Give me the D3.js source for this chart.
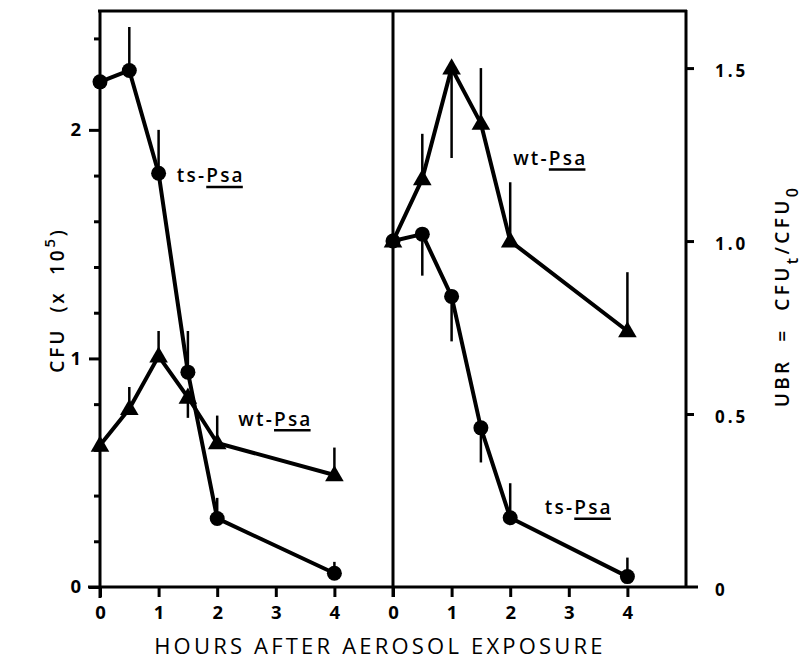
<!DOCTYPE html>
<html>
<head>
<meta charset="utf-8">
<script src="https://cdn.jsdelivr.net/npm/d3@7"></script>
<style>
  html, body { margin: 0; padding: 0; background: #fff; }
  svg text { font-family: "Open Sans", "DejaVu Sans", sans-serif; fill: #000; }
</style>
</head>
<body>
<svg id="chart" width="805" height="666"></svg>
<script>
// hours after exposure, shared by both panels
var hours = [0, 0.5, 1, 1.5, 2, 4];
var xTicks = [0, 1, 2, 3, 4];

// left panel: CFU (x 10^5)
var leftTs     = [2.21, 2.26, 1.81, 0.94, 0.30, 0.06];
var leftTsErr  = [null, 2.45, 2.00, 1.12, 0.39, 0.11];
var leftWt     = [0.62, 0.78, 1.01, 0.83, 0.63, 0.49];
var leftWtErr  = [null, 0.875, 1.12, 0.74, 0.75, 0.61];
var leftTicks  = [0, 0.2, 0.4, 0.6, 0.8, 1, 1.2, 1.4, 1.6, 1.8, 2, 2.2, 2.4];
var leftLabels = [0, 1, 2];

// right panel: UBR = CFUt / CFU0
var rightWt    = [1.00, 1.18, 1.50, 1.34, 1.00, 0.74];
var rightWtErr = [null, 1.31, 1.24, 1.50, 1.17, 0.91];
var rightTs    = [1.00, 1.02, 0.84, 0.46, 0.20, 0.03];
var rightTsErr = [null, 0.90, 0.71, 0.36, 0.30, 0.085];
var rightTicks = [0, 0.5, 1.0, 1.5];

var svg = d3.select('#chart');

var yTop = 11, yBottom = 587;
var xLeft  = d3.scaleLinear().domain([0, 5]).range([100, 393]);
var xRight = d3.scaleLinear().domain([0, 5]).range([393, 686]);
var yLeft  = d3.scaleLinear().domain([0, 2.52]).range([yBottom, yTop]);
var yRight = d3.scaleLinear().domain([0, 1.665]).range([yBottom, yTop]);

// frame
// - - - - - - - - - - - - - - - - - - - - - -
var frame = svg.append('g')
    .attr('stroke', '#000')
    .attr('stroke-width', 3)
    .attr('fill', 'none');
frame.append('line').attr('x1', 98).attr('x2', 687).attr('y1', yTop).attr('y2', yTop);
frame.append('line').attr('x1', 88).attr('x2', 698).attr('y1', yBottom).attr('y2', yBottom);
frame.append('line').attr('x1', 100).attr('x2', 100).attr('y1', yTop - 1).attr('y2', 598);
frame.append('line').attr('x1', 393).attr('x2', 393).attr('y1', yTop).attr('y2', 597);
frame.append('line').attr('x1', 686).attr('x2', 686).attr('y1', yTop - 1).attr('y2', yBottom);

function styleAxis(g) {
  g.select('.domain').remove();
  g.selectAll('.tick line').attr('stroke', '#000').attr('stroke-width', 3);
  g.selectAll('.tick text')
    .attr('font-size', 18.5)
    .attr('font-weight', 700);
}

// left y axis
var axL = svg.append('g')
    .attr('transform', 'translate(100,0)')
    .call(d3.axisLeft(yLeft).tickValues(leftTicks).tickSize(10).tickPadding(9)
      .tickFormat(function(d) { return leftLabels.indexOf(d) >= 0 ? d : ''; }))
    .call(styleAxis);
axL.selectAll('.tick line')
  .attr('x2', function(d) { return leftLabels.indexOf(d) >= 0 ? -11 : -6; });

// bottom axes, one per panel
[xLeft, xRight].forEach(function(x) {
  svg.append('g')
    .attr('transform', 'translate(0,' + yBottom + ')')
    .call(d3.axisBottom(x).tickValues(xTicks).tickSize(10).tickPadding(9)
      .tickFormat(d3.format('d')))
    .call(styleAxis);
});

// right y axis
var axR = svg.append('g')
    .attr('transform', 'translate(686,0)')
    .call(d3.axisRight(yRight).tickValues(rightTicks).tickSize(8).tickPadding(21)
      .tickFormat(function(d) { return d === 0 ? '0' : d3.format('.1f')(d); }))
    .call(styleAxis);
axR.selectAll('.tick text').attr('font-size', 17).attr('letter-spacing', 3).attr('dy', '0.5em');
axR.selectAll('.tick').filter(function(d) { return d === 0; }).select('line').remove();

// series
// - - - - - - - - - - - - - - - - - - - - - -
var series = [
  { x: xLeft,  y: yLeft,  vals: leftTs,  err: leftTsErr,  shape: 'circle' },
  { x: xLeft,  y: yLeft,  vals: leftWt,  err: leftWtErr,  shape: 'triangle' },
  { x: xRight, y: yRight, vals: rightTs, err: rightTsErr, shape: 'circle' },
  { x: xRight, y: yRight, vals: rightWt, err: rightWtErr, shape: 'triangle' }
];

var tri = d3.symbol().type(d3.symbolTriangle).size(150);

series.forEach(function(s) {
  var pts = hours.map(function(h, i) { return { h: h, v: s.vals[i], e: s.err[i] }; });
  var g = svg.append('g');

  g.selectAll('line.err')
    .data(pts.filter(function(p) { return p.e !== null; }))
    .enter().append('line')
    .attr('class', 'err')
    .attr('x1', function(p) { return s.x(p.h); })
    .attr('x2', function(p) { return s.x(p.h); })
    .attr('y1', function(p) { return s.y(p.v); })
    .attr('y2', function(p) { return s.y(p.e); })
    .attr('stroke', '#000')
    .attr('stroke-width', 2.5);

  g.append('path')
    .datum(pts)
    .attr('d', d3.line().x(function(p) { return s.x(p.h); }).y(function(p) { return s.y(p.v); }))
    .attr('fill', 'none')
    .attr('stroke', '#000')
    .attr('stroke-width', 4)
    .attr('stroke-linejoin', 'round');

  if (s.shape === 'circle') {
    g.selectAll('circle')
      .data(pts).enter().append('circle')
      .attr('cx', function(p) { return s.x(p.h); })
      .attr('cy', function(p) { return s.y(p.v); })
      .attr('r', 7.5)
      .attr('fill', '#000');
  } else {
    g.selectAll('path.mark')
      .data(pts).enter().append('path')
      .attr('class', 'mark')
      .attr('d', tri)
      .attr('transform', function(p) { return 'translate(' + s.x(p.h) + ',' + (s.y(p.v) + 1) + ')'; })
      .attr('fill', '#000');
  }
});

// strain labels
// - - - - - - - - - - - - - - - - - - - - - -
var strainLabels = [
  { x: xLeft,  y: yLeft,  h: 1.31, v: 1.77, prefix: 'ts-' },
  { x: xLeft,  y: yLeft,  h: 2.36, v: 0.705, prefix: 'wt-' },
  { x: xRight, y: yRight, h: 2.05, v: 1.22, prefix: 'wt-' },
  { x: xRight, y: yRight, h: 2.59, v: 0.21, prefix: 'ts-' }
];

strainLabels.forEach(function(l) {
  var px = l.x(l.h), py = l.y(l.v);
  var t = svg.append('text')
      .attr('x', px).attr('y', py)
      .attr('font-size', 19)
      .attr('font-weight', 600)
      .attr('letter-spacing', 2.2);
  t.append('tspan').text(l.prefix);
  t.append('tspan').text('Psa');
  var node = t.node();
  var pre = node.getSubStringLength(0, l.prefix.length);
  var len = node.getSubStringLength(l.prefix.length, 3);
  svg.append('line')
    .attr('x1', px + pre).attr('x2', px + pre + len - 2)
    .attr('y1', py + 4.5).attr('y2', py + 4.5)
    .attr('stroke', '#000').attr('stroke-width', 2.5);
});

// axis titles
// - - - - - - - - - - - - - - - - - - - - - -
svg.append('text')
  .attr('x', 380).attr('y', 654)
  .attr('text-anchor', 'middle')
  .attr('font-size', 22)
  .attr('font-weight', 500)
  .attr('letter-spacing', 3.2)
  .text('HOURS AFTER AEROSOL EXPOSURE');

var cfu = svg.append('text')
  .attr('transform', 'translate(64,300) rotate(-90)')
  .attr('text-anchor', 'middle')
  .attr('font-size', 19)
  .attr('font-weight', 600)
  .attr('letter-spacing', 2.8)
  .attr('xml:space', 'preserve');
cfu.append('tspan').text('CFU  (x  10');
cfu.append('tspan').attr('dy', -9).attr('font-size', 15).text('5');
cfu.append('tspan').attr('dy', 9).text(')');

var ubr = svg.append('text')
  .attr('transform', 'translate(789,296) rotate(-90)')
  .attr('text-anchor', 'middle')
  .attr('font-size', 19)
  .attr('font-weight', 600)
  .attr('letter-spacing', 3.4)
  .attr('xml:space', 'preserve');
ubr.append('tspan').text('UBR  =  CFU');
ubr.append('tspan').attr('dy', 9).attr('font-size', 16).text('t');
ubr.append('tspan').attr('dy', -9).text('/CFU');
ubr.append('tspan').attr('dy', 9).attr('font-size', 16).text('0');
</script>
</body>
</html>
